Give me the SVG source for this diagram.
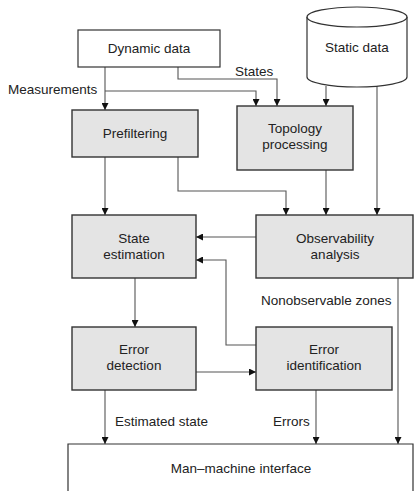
<svg xmlns="http://www.w3.org/2000/svg" width="414" height="491" viewBox="0 0 414 491">
  <defs>
    <marker id="arr" viewBox="0 0 10 10" refX="10" refY="5" markerWidth="7" markerHeight="7" markerUnits="userSpaceOnUse" orient="auto">
      <path d="M0,0 L10,5 L0,10 z" fill="#111"/>
    </marker>
    <style>
      .box { fill: #e4e4e4; stroke: #333; stroke-width: 1.4; }
      .wbox { fill: #fff; stroke: #333; stroke-width: 1.2; }
      .lbl { font-family: "Liberation Sans", Arial, sans-serif; font-size: 13.5px; fill: #222; }
      .c { text-anchor: middle; }
      .conn { fill: none; stroke: #555; stroke-width: 1.1; }
      .conn path { marker-end: url(#arr); }
    </style>
  </defs>
  <rect width="414" height="491" fill="#fff"/>

  <!-- connectors -->
  <g id="connectors" class="conn">
    <path d="M105,67 V110"/>
    <path d="M105,91 H256 V106"/>
    <path d="M178,67 V79 H277 V106"/>
    <path d="M326,86 V106"/>
    <path d="M377,86 V215"/>
    <path d="M105,157 V215"/>
    <path d="M178,157 V191 H286 V215"/>
    <path d="M326,170 V215"/>
    <path d="M256,237 H196"/>
    <path d="M256,345 H226 V260 H196"/>
    <path d="M135,278 V327"/>
    <path d="M196,372 H256"/>
    <path d="M105,390 V444"/>
    <path d="M316,390 V444"/>
    <path d="M398,278 V444"/>
  </g>

  <!-- connector labels -->
  <g id="labels" class="lbl">
    <text x="8" y="94">Measurements</text>
    <text x="235" y="76">States</text>
    <text x="261" y="305">Nonobservable zones</text>
    <text x="115" y="426">Estimated state</text>
    <text x="273" y="426">Errors</text>
  </g>

  <g id="dynamic-data">
    <rect class="wbox" x="78" y="30" width="142" height="37"/>
    <text class="lbl c" x="149" y="53">Dynamic data</text>
  </g>

  <g id="static-data">
    <path class="wbox" d="M307,17 V77 A50,10 0 0 0 407,77 V17"/>
    <ellipse class="wbox" cx="357" cy="17" rx="50" ry="10"/>
    <text class="lbl c" x="357" y="52">Static data</text>
  </g>

  <g id="prefiltering">
    <rect class="box" x="72" y="110" width="126" height="47"/>
    <text class="lbl c" x="135" y="138">Prefiltering</text>
  </g>

  <g id="topology-processing">
    <rect class="box" x="237" y="106" width="116" height="64"/>
    <text class="lbl c" x="295" y="133">Topology</text>
    <text class="lbl c" x="295" y="149">processing</text>
  </g>

  <g id="state-estimation">
    <rect class="box" x="72" y="215" width="124" height="63"/>
    <text class="lbl c" x="134" y="243">State</text>
    <text class="lbl c" x="134" y="259">estimation</text>
  </g>

  <g id="observability-analysis">
    <rect class="box" x="256" y="215" width="157" height="63"/>
    <text class="lbl c" x="335" y="243">Observability</text>
    <text class="lbl c" x="335" y="259">analysis</text>
  </g>

  <g id="error-detection">
    <rect class="box" x="72" y="327" width="124" height="63"/>
    <text class="lbl c" x="134" y="354">Error</text>
    <text class="lbl c" x="134" y="370">detection</text>
  </g>

  <g id="error-identification">
    <rect class="box" x="256" y="327" width="136" height="63"/>
    <text class="lbl c" x="324" y="354">Error</text>
    <text class="lbl c" x="324" y="370">identification</text>
  </g>

  <g id="man-machine-interface">
    <path class="wbox" d="M68,492 V444 H413 V492"/>
    <text class="lbl c" x="241" y="473">Man–machine interface</text>
  </g>
</svg>
